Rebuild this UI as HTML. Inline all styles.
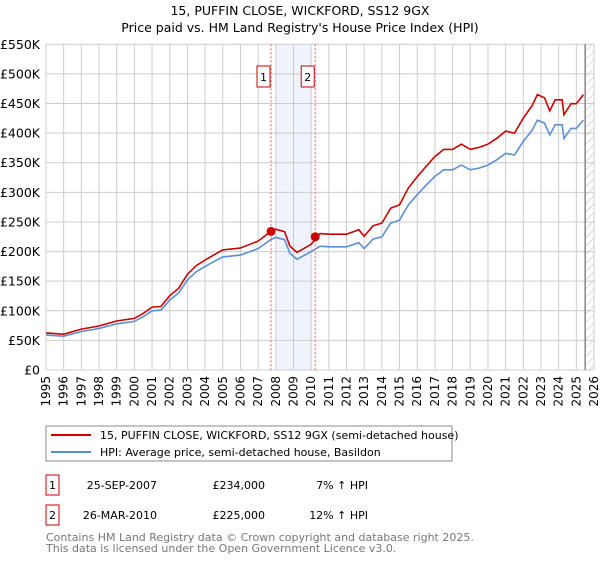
<!DOCTYPE html>
<html><head><meta charset="utf-8"><style>
body{margin:0;background:#fff;font-family:"Liberation Sans","DejaVu Sans",sans-serif;}
svg text{font-family:"DejaVu Sans","Liberation Sans",sans-serif;}
</style></head><body>
<svg id="c" width="600" height="560" xmlns="http://www.w3.org/2000/svg">
<text x="300" y="15" text-anchor="middle" font-size="12.5">15, PUFFIN CLOSE, WICKFORD, SS12 9GX</text>
<text x="300" y="32" text-anchor="middle" font-size="12.5">Price paid vs. HM Land Registry's House Price Index (HPI)</text>
<g id="plot"></g>
<g>
<rect x="46" y="426" width="406" height="35" fill="#fff" stroke="#888"/>
<line x1="51" y1="435" x2="91" y2="435" stroke="#cc0000" stroke-width="2"/>
<text x="100" y="439" font-size="11">15, PUFFIN CLOSE, WICKFORD, SS12 9GX (semi-detached house)</text>
<line x1="51" y1="452" x2="91" y2="452" stroke="#5b8fd4" stroke-width="2"/>
<text x="100" y="456" font-size="11">HPI: Average price, semi-detached house, Basildon</text>
</g>
<g font-size="11">
<rect x="46" y="475" width="13" height="20" fill="#fff" stroke="#cc0000"/>
<text x="52.5" y="489" text-anchor="middle">1</text>
<text x="157" y="489" text-anchor="end">25-SEP-2007</text>
<text x="265" y="489" text-anchor="end">£234,000</text>
<text x="368" y="489" text-anchor="end">7% ↑ HPI</text>
<rect x="46" y="505" width="13" height="20" fill="#fff" stroke="#cc0000"/>
<text x="52.5" y="519" text-anchor="middle">2</text>
<text x="157" y="519" text-anchor="end">26-MAR-2010</text>
<text x="265" y="519" text-anchor="end">£225,000</text>
<text x="368" y="519" text-anchor="end">12% ↑ HPI</text>
</g>
<text x="46" y="541" font-size="11" fill="#777">Contains HM Land Registry data © Crown copyright and database right 2025.</text>
<text x="46" y="552" font-size="11" fill="#777">This data is licensed under the Open Government Licence v3.0.</text>
</svg>
<script>
const hpiYears=[1995,1996,1997,1998,1999,2000,2000.5,2001,2001.5,2002,2002.5,2003,2003.5,2004,2004.5,2005,2006,2007,2007.7,2008,2008.5,2008.8,2009.2,2010,2010.5,2011,2012,2012.7,2013,2013.5,2014,2014.5,2015,2015.5,2016,2016.5,2017,2017.5,2018,2018.5,2019,2019.5,2020,2020.5,2021,2021.5,2022,2022.5,2022.8,2023.2,2023.5,2023.8,2024.2,2024.3,2024.7,2025,2025.4];
const hpiValues=[59,57,65,70,78,82,90,100,101,118,130,152,166,175,183,191,194,205,220,224,220,197,187,200,209,208,208,215,205,221,225,248,253,279,296,312,327,338,338,346,338,341,346,355,366,363,386,405,422,417,397,414,414,391,408,408,422];
const saleYears=[2007.73,2010.23];
const salePrices=[234,225];
const saleLabels=["1","2"];
const yTicks=[0,50,100,150,200,250,300,350,400,450,500,550];
const yTickLabels=["£0","£50K","£100K","£150K","£200K","£250K","£300K","£350K","£400K","£450K","£500K","£550K"];
const xTicks=[1995,1996,1997,1998,1999,2000,2001,2002,2003,2004,2005,2006,2007,2008,2009,2010,2011,2012,2013,2014,2015,2016,2017,2018,2019,2020,2021,2022,2023,2024,2025,2026];

const L=46,R=594,T=44.3,B=370;
const X=y=>L+(y-1995)*(R-L)/31;
const Y=v=>B-v*(B-T)/550;
const NS="http://www.w3.org/2000/svg";
const g=document.getElementById('plot');
function mk(t,a){const e=document.createElementNS(NS,t);for(const k in a)e.setAttribute(k,a[k]);g.appendChild(e);return e;}
function hpiAt(y){for(let i=0;i<hpiYears.length-1;i++){if(y<=hpiYears[i+1]){const f=(y-hpiYears[i])/(hpiYears[i+1]-hpiYears[i]);return hpiValues[i]+f*(hpiValues[i+1]-hpiValues[i]);}}return hpiValues[hpiValues.length-1];}

let e=mk('rect',{x:X(2008),y:T,width:X(2010)-X(2008),height:B-T,fill:'#eef3fc'});


xTicks.forEach(t=>{const l=mk('line',{x1:X(t),x2:X(t),y1:T,y2:B,stroke:'#ccc','stroke-width':1});


const tx=mk('text',{x:0,y:0,'font-size':12,'text-anchor':'end',transform:`translate(${X(t)+4},${B+6}) rotate(-90)`});tx.textContent=t;

});
yTicks.forEach((t,i)=>{const l=mk('line',{x1:L,x2:R,y1:Y(t),y2:Y(t),stroke:'#ccc','stroke-width':1});


const tx=mk('text',{x:L-6,y:Y(t)+4.5,'font-size':12.5,'text-anchor':'end'});tx.textContent=yTickLabels[i];

});
// hatched future region
const hx=X(2025.5);
let defs=document.createElementNS(NS,'defs');defs.innerHTML='<pattern id="h" width="6" height="6" patternUnits="userSpaceOnUse" patternTransform="rotate(45)"><line x1="0" y1="0" x2="0" y2="6" stroke="#bbb" stroke-width="1"/></pattern>';g.appendChild(defs);
e=mk('rect',{x:hx,y:T,width:R-hx,height:B-T,fill:'url(#h)'});


e=mk('line',{x1:hx,x2:hx,y1:T,y2:B,stroke:'#888','stroke-width':1.5});


e=mk('line',{x1:L,x2:L,y1:T,y2:B,stroke:'#ccc'});
// HPI line
let pts=hpiYears.map((y,i)=>X(y).toFixed(1)+','+Y(hpiValues[i]).toFixed(1)).join(' ');
e=mk('polyline',{points:pts,fill:'none',stroke:'#5b8fd4','stroke-width':1.6});


// price line indexed to HPI from sales
const f1=salePrices[0]/hpiAt(saleYears[0]),f2=salePrices[1]/hpiAt(saleYears[1]);
pts=hpiYears.map((y,i)=>{const f=y<saleYears[1]?f1:f2;return X(y).toFixed(1)+','+Y(hpiValues[i]*f).toFixed(1);});
e=mk('polyline',{points:pts.join(' '),fill:'none',stroke:'#cc0000','stroke-width':1.6});


saleYears.forEach((s,i)=>{
 const d=mk('line',{x1:X(s),x2:X(s),y1:T,y2:B,stroke:'#e06666','stroke-dasharray':'2,2','stroke-width':1});
 
 
 const c=mk('circle',{cx:X(s),cy:Y(salePrices[i]),r:4.5,fill:'#cc0000'});
 
 
 const b=mk('rect',{x:X(s)-14,y:66,width:13,height:21,fill:'#fff',stroke:'#cc0000'});
 
 
 const t=mk('text',{x:X(s)-7.5,y:81,'font-size':11,'text-anchor':'middle'});t.textContent=saleLabels[i];
 
 
});
</script>
</body></html>
